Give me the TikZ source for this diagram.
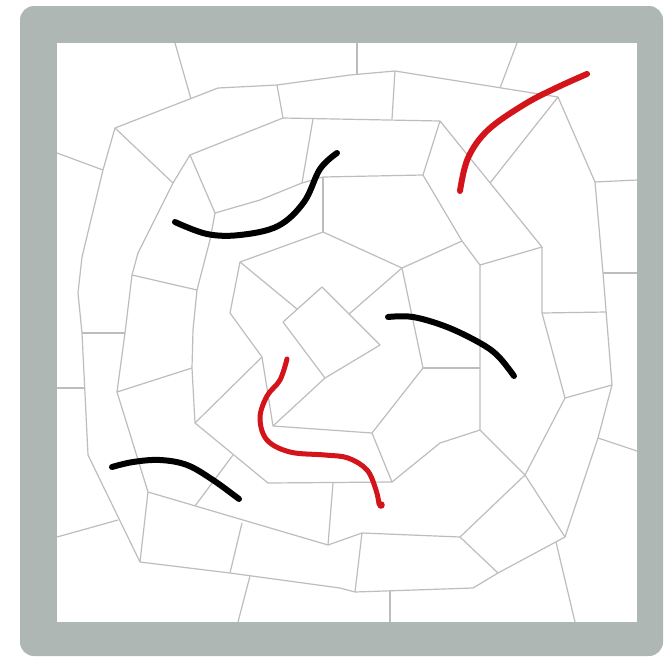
\documentclass[tikz,border=0pt]{standalone}
\usepackage{tikz}
\definecolor{framegray}{HTML}{AEB7B3}
\definecolor{linegray}{HTML}{BDBDBD}
\definecolor{inkred}{HTML}{D3141A}
\begin{document}
\begin{tikzpicture}[x=1pt,y=-1pt,
  net/.style={draw=linegray,line width=1.2pt,line join=round},
  inkline/.style={line width=6pt,line cap=round,line join=round},
  blackink/.style={inkline,draw=black},
  redink/.style={inkline,draw=inkred}]
\useasboundingbox (0,0) rectangle (665,657);
% frame
\fill[framegray,rounded corners=14pt] (20,6) rectangle (663,656);
\fill[white] (57,43) rectangle (637,622);
% ring A
\draw[net] (115,128)--(218,88)--(277,85)--(350,75)--(395,71)--(558,97)--(595,182)--(603,273)--(612,385)--(598,438)--(565,537)--(498,573)--(473,588)--(355,592)--(340,588)--(230,573)--(140,562)--(88,455)--(82,333)--(78,293)--(82,257)--(103,170)--cycle;
% ring B
\draw[net] (190,155)--(283,118)--(440,121)--(542,247)--(542,313)--(565,398)--(525,475)--(460,537)--(362,533)--(328,545)--(148,492)--(117,392)--(125,333)--(132,275)--(138,253)--(173,183)--cycle;
% ring C
\draw[net] (215,213)--(260,200)--(302,183)--(323,177)--(423,175)--(462,241)--(480,265)--(480,430)--(440,443)--(392,482)--(268,483)--(195,423)--(192,368)--(193,330)--(197,290)--(210,240)--cycle;
% ring D
\draw[net] (240,262)--(323,232)--(402,268)--(423,368)--(372,433)--(273,426)--(262,357)--(230,313)--cycle;
% centre square
\draw[net] (283,322)--(322,287)--(380,345)--(325,378)--cycle;
% spokes to the white border
\draw[net] (175,43)--(191,99);
\draw[net] (357,43)--(357,74);
\draw[net] (517,43)--(500,88);
\draw[net] (595,182)--(637,180);
\draw[net] (603,273)--(637,273);
\draw[net] (598,438)--(637,451);
\draw[net] (556,542)--(575,622);
\draw[net] (390,591)--(390,622);
\draw[net] (250,576)--(238,622);
\draw[net] (118,520)--(57,537);
\draw[net] (85,388)--(57,388);
\draw[net] (103,170)--(57,153);
% A-B spokes
\draw[net] (277,85)--(283,118);
\draw[net] (395,71)--(392,119);
\draw[net] (558,97)--(490,183);
\draw[net] (115,128)--(173,183);
\draw[net] (82,333)--(125,333);
\draw[net] (148,492)--(140,562);
\draw[net] (242,523)--(230,573);
\draw[net] (362,533)--(355,592);
\draw[net] (460,537)--(498,573);
\draw[net] (525,475)--(565,537);
\draw[net] (565,398)--(612,385);
\draw[net] (542,313)--(606,312);
% B-C spokes
\draw[net] (190,155)--(215,213);
\draw[net] (313,119)--(302,183);
\draw[net] (440,121)--(423,175);
\draw[net] (542,247)--(480,265);
\draw[net] (132,275)--(197,290);
\draw[net] (117,392)--(192,368);
\draw[net] (233,455)--(195,506);
\draw[net] (328,545)--(333,483);
\draw[net] (480,430)--(525,475);
% C-D spokes
\draw[net] (323,177)--(323,232);
\draw[net] (402,268)--(462,241);
\draw[net] (423,368)--(480,368);
\draw[net] (372,433)--(392,482);
\draw[net] (262,357)--(195,423);
% D-square spokes
\draw[net] (240,262)--(297,309);
\draw[net] (402,268)--(349,314);
\draw[net] (325,378)--(273,426);
% ink strokes
\draw[blackink] plot[smooth,tension=0.6] coordinates {(175,222) (207,234) (240,235) (278,226) (304,202) (320,169) (337,153)};
\draw[redink] plot[smooth,tension=0.6] coordinates {(460,191) (468,158) (488,130) (525,104) (558,87) (587,74)};
\draw[blackink] plot[smooth,tension=0.6] coordinates {(388,317) (413,317) (447,327) (480,343) (498,356) (514,376)};
\draw[blackink] plot[smooth,tension=0.6] coordinates {(112,467) (133,462) (160,460) (187,465) (213,480) (239,499)};
\draw[redink,line width=5pt] plot[smooth,tension=0.6] coordinates {(287,359) (280,380) (267,396) (260,418) (267,440) (290,452) (325,455) (348,458) (367,470) (376,490) (379,504)};
\fill[inkred] (381,505) circle (3.8pt);
\end{tikzpicture}
\end{document}
